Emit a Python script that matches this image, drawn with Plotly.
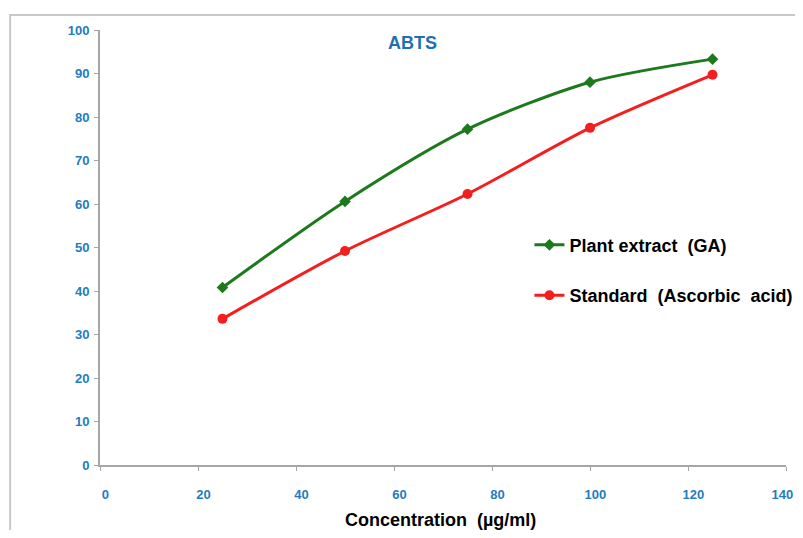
import plotly.graph_objects as go

concentration = [25, 50, 75, 100, 125]
plant_extract = [40.8, 60.6, 77.2, 88.0, 93.3]
standard = [33.6, 49.2, 62.3, 77.5, 89.7]
x_ticks = [0, 20, 40, 60, 80, 100, 120, 140]
y_ticks = [0, 10, 20, 30, 40, 50, 60, 70, 80, 90, 100]

# labels nudged right of their ticks (as in the source chart); the last one nudged left to stay in view
x_ticktext = ["\u00a0" * 3 + str(v) for v in x_ticks[:-1]] + [str(x_ticks[-1]) + "\u00a0" * 2]

tick_font = dict(family="Liberation Sans", size=13, color="#1F7CC1", weight="bold")

fig = go.Figure()
fig.add_trace(go.Scatter(
    x=concentration, y=plant_extract, mode="lines+markers",
    name="Plant extract  (GA)", legendgroup="a",
    line=dict(color="#1C7A1C", width=3, shape="spline", smoothing=0.8),
    marker=dict(symbol="diamond", size=9, color="#1C7A1C"),
))
fig.add_trace(go.Scatter(
    x=concentration, y=standard, mode="lines+markers",
    name="Standard  (Ascorbic  acid)", legendgroup="b",
    line=dict(color="#F51E1E", width=3, shape="spline", smoothing=0.8),
    marker=dict(symbol="circle", size=10, color="#F51E1E"),
))

fig.update_layout(
    width=795, height=522,
    margin=dict(l=92, r=17, t=22, b=65, autoexpand=False),
    paper_bgcolor="white", plot_bgcolor="white",
    showlegend=True,
    legend=dict(
        x=0.626, y=0.448, xanchor="left", yanchor="middle",
        font=dict(family="Liberation Sans", size=18, color="black", weight="bold"),
        tracegroupgap=24, itemwidth=30, bgcolor="rgba(0,0,0,0)",
    ),
    xaxis=dict(
        range=[0, 140], tickvals=x_ticks, ticktext=x_ticktext,
        showgrid=False, zeroline=False,
        showline=True, linecolor="#A6A6A6", linewidth=2, automargin=False,
        ticks="outside", ticklen=4, tickcolor="#A6A6A6", tickwidth=1,
        tickfont=tick_font, ticklabelstandoff=12,
        ticklabeloverflow="allow",
    ),
    yaxis=dict(
        range=[0, 100], tickvals=y_ticks, showgrid=False, zeroline=False,
        showline=True, linecolor="#A6A6A6", linewidth=2, automargin=False,
        ticks="outside", ticklen=4, tickcolor="#A6A6A6", tickwidth=1,
        tickfont=tick_font, ticklabelstandoff=2,
    ),
    annotations=[
        dict(
            text="ABTS", x=0.455, y=0.97, xref="paper", yref="paper",
            showarrow=False, xanchor="center", yanchor="middle",
            font=dict(family="Liberation Sans", size=18, color="#1F6FB2", weight="bold"),
        ),
        dict(
            text="Concentration  (µg/ml)", x=0.497, y=-0.126, xref="paper", yref="paper",
            showarrow=False, xanchor="center", yanchor="middle",
            font=dict(family="Liberation Sans", size=18, color="black", weight="bold"),
        ),
    ],
    shapes=[dict(
        type="rect", xref="paper", yref="paper",
        x0=-0.131, x1=1.2, y0=-0.5, y1=1.0345,
        line=dict(color="#C8C8C8", width=2), fillcolor="rgba(0,0,0,0)",
        layer="below",
    )],
)

fig.write_html("out.html")
